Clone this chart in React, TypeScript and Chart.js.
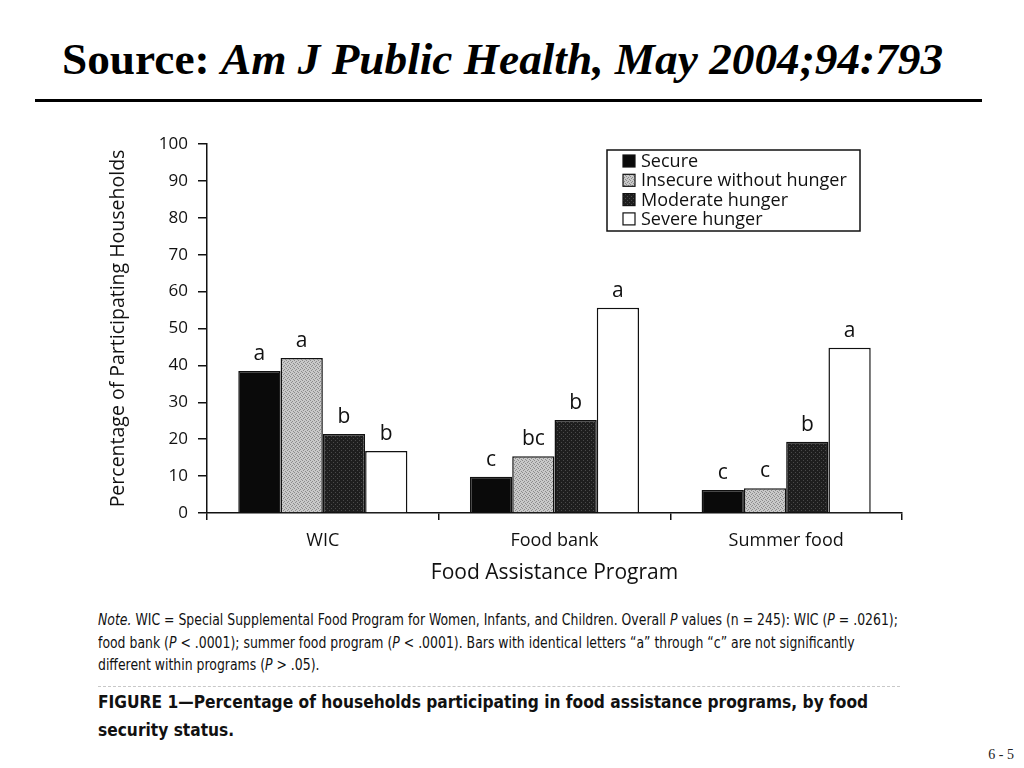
import React, { useEffect, useRef } from "react";
import { Chart, registerables } from "chart.js";

Chart.register(...registerables);

const categories = ["WIC", "Food bank", "Summer food"];
const seriesNames = ["Secure", "Insecure without hunger", "Moderate hunger", "Severe hunger"];
const secureValues = [38.5, 9.8, 6.2];
const insecureValues = [42.0, 15.4, 6.7];
const moderateValues = [21.4, 25.2, 19.3];
const severeValues = [16.8, 55.6, 44.8];
const secureLetters = ["a", "c", "c"];
const insecureLetters = ["a", "bc", "c"];
const moderateLetters = ["b", "b", "b"];
const severeLetters = ["b", "a", "a"];
const yMin = 0;
const yMax = 100;
const yStep = 10;
const yTitle = "Percentage of Participating Households";
const xTitle = "Food Assistance Program";

const FONT = "'Open Sans', sans-serif";

function makePattern(base: string, dot: string, dots: number[][]) {
  const c = document.createElement("canvas");
  c.width = 4;
  c.height = 4;
  const g = c.getContext("2d")!;
  g.fillStyle = base;
  g.fillRect(0, 0, 4, 4);
  g.fillStyle = dot;
  dots.forEach(([x, y]) => g.fillRect(x, y, 1, 1));
  const p = g.createPattern(c, "repeat");
  return p || base;
}

const letterPlugin = {
  id: "letters",
  afterDatasetsDraw(chart: any) {
    const ctx = chart.ctx;
    const all = [secureLetters, insecureLetters, moderateLetters, severeLetters];
    ctx.save();
    ctx.font = `21px ${FONT}`;
    ctx.fillStyle = "#111";
    ctx.textAlign = "center";
    ctx.textBaseline = "alphabetic";
    chart.data.datasets.forEach((_: any, di: number) => {
      const meta = chart.getDatasetMeta(di);
      meta.data.forEach((bar: any, i: number) => {
        ctx.fillText(all[di][i], bar.x, bar.y - 11);
      });
    });
    ctx.restore();
  },
};

const legendPlugin = {
  id: "boxLegend",
  afterDraw(chart: any) {
    const ctx = chart.ctx;
    const bx = 517, by = 30, bw = 253, bh = 81;
    ctx.save();
    ctx.lineWidth = 1.5;
    ctx.strokeStyle = "#111";
    ctx.strokeRect(bx, by, bw, bh);
    ctx.font = `18px ${FONT}`;
    ctx.textBaseline = "middle";
    ctx.textAlign = "left";
    chart.data.datasets.forEach((ds: any, i: number) => {
      const cy = by + 11 + i * 19.3;
      ctx.fillStyle = ds.backgroundColor;
      ctx.fillRect(bx + 16, cy - 6, 12, 12);
      ctx.lineWidth = 1.2;
      ctx.strokeStyle = "#111";
      ctx.strokeRect(bx + 16, cy - 6, 12, 12);
      ctx.fillStyle = "#111";
      ctx.fillText(ds.label, bx + 34, cy + 1);
    });
    ctx.restore();
  },
};

function BarChart() {
  const ref = useRef<HTMLCanvasElement | null>(null);
  useEffect(() => {
    if (!ref.current) return;
    const insecurePat = makePattern("#c9c9c9", "#8c8c8c", [[0, 0], [2, 1], [1, 2], [3, 3]]);
    const moderatePat = makePattern("#1e1e1e", "#4a4a4a", [[1, 0], [3, 2]]);
    const chart = new Chart(ref.current, {
      type: "bar",
      data: {
        labels: categories,
        datasets: [
          { label: seriesNames[0], data: secureValues, backgroundColor: "#0a0a0a" },
          { label: seriesNames[1], data: insecureValues, backgroundColor: insecurePat as any },
          { label: seriesNames[2], data: moderateValues, backgroundColor: moderatePat as any },
          { label: seriesNames[3], data: severeValues, backgroundColor: "#ffffff" },
        ].map((d) => ({
          ...d,
          borderColor: "#111",
          borderWidth: 1.5,
          borderSkipped: "bottom" as any,
          categoryPercentage: 0.73,
          barPercentage: 1.0,
        })),
      },
      options: {
        responsive: false,
        animation: false,
        events: [],
        layout: { padding: { top: 24, right: 28, left: 0, bottom: 0 } },
        plugins: {
          legend: { display: false },
          tooltip: { enabled: false },
        },
        scales: {
          x: {
            afterFit: (s: any) => { s.height = 87; },
            border: { color: "#111", width: 1.5 },
            grid: { display: true, drawOnChartArea: false, drawTicks: true, tickLength: 7, color: "#111", lineWidth: 1.5, offset: true },
            ticks: { color: "#111", font: { family: FONT, size: 18 }, padding: 10 },
            title: { display: true, text: xTitle, color: "#111", font: { family: FONT, size: 21 }, padding: { top: 0, bottom: 14 } },
          },
          y: {
            min: yMin,
            max: yMax,
            afterFit: (s: any) => { s.width = 117; },
            border: { color: "#111", width: 1.5 },
            grid: { display: true, drawOnChartArea: false, drawTicks: true, tickLength: 9, color: "#111", lineWidth: 1.5 },
            ticks: { stepSize: yStep, color: "#111", font: { family: FONT, size: 17 }, padding: 10 },
            title: { display: true, text: yTitle, color: "#111", font: { family: FONT, size: 19.5 }, padding: { top: 17, bottom: 0 } },
          },
        },
      },
      plugins: [letterPlugin, legendPlugin],
    });
    return () => chart.destroy();
  }, []);
  return (
    <canvas
      ref={ref}
      width={840}
      height={480}
      style={{ position: "absolute", left: 90, top: 120, width: 840, height: 480 }}
    />
  );
}

export default function App() {
  const narrow = "'Liberation Sans Narrow', 'DejaVu Sans Condensed', 'Roboto Condensed', sans-serif";
  return (
    <div style={{ position: "absolute", left: 0, top: 0, width: 1024, height: 768, background: "#fff", overflow: "hidden" }}>
      <div style={{ position: "absolute", left: 62, top: 37, fontFamily: "'Liberation Serif', 'Times New Roman', serif", fontSize: 45.3, fontWeight: "bold", lineHeight: 1, whiteSpace: "nowrap", color: "#000" }}>
        Source: <i>Am J Public Health, May 2004;94:793</i>
      </div>
      <div style={{ position: "absolute", left: 35, top: 99, width: 947, height: 3, background: "#000" }} />
      <BarChart />
      <div style={{ position: "absolute", left: 98, top: 609, fontFamily: narrow, fontStretch: "condensed", fontSize: 15, lineHeight: "22.5px", whiteSpace: "nowrap", color: "#111", transform: "scaleX(0.923)", transformOrigin: "0 0" }}>
        <i>Note.</i> WIC = Special Supplemental Food Program for Women, Infants, and Children. Overall <i>P</i> values (n = 245): WIC (<i>P</i> = .0261);<br />
        food bank (<i>P</i> &lt; .0001); summer food program (<i>P</i> &lt; .0001). Bars with identical letters “a” through “c” are not significantly<br />
        different within programs (<i>P</i> &gt; .05).
      </div>
      <div style={{ position: "absolute", left: 98, top: 686, width: 802, borderTop: "1px dashed #c8c8c8" }} />
      <div style={{ position: "absolute", left: 98, top: 688, fontFamily: narrow, fontStretch: "condensed", fontSize: 18, fontWeight: "bold", lineHeight: "28px", whiteSpace: "nowrap", color: "#111", transform: "scaleX(0.955)", transformOrigin: "0 0" }}>
        FIGURE 1—Percentage of households participating in food assistance programs, by food<br />
        security status.
      </div>
      <div style={{ position: "absolute", right: 10, top: 747, fontFamily: "'Liberation Serif', 'Times New Roman', serif", fontSize: 14, lineHeight: "16px", color: "#222" }}>
        6 - 5
      </div>
    </div>
  );
}
